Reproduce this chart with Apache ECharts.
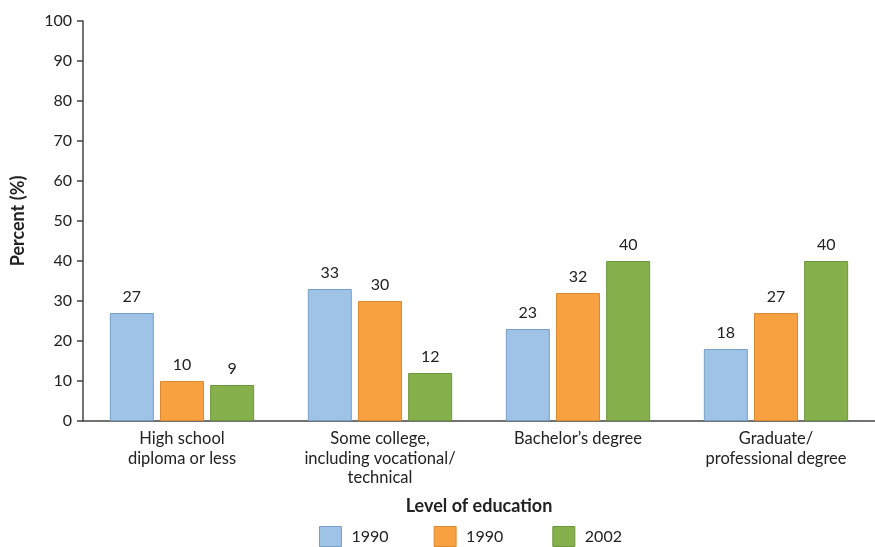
<!DOCTYPE html>
<html>
<head>
<meta charset="utf-8">
<script src="https://cdn.jsdelivr.net/npm/echarts@6/dist/echarts.min.js"></script>
<style>html,body{margin:0;padding:0;background:#fff}#c{width:875px;height:547px}</style>
</head>
<body>
<div id="c"></div>
<script>
var categories = ['High school\ndiploma or less', 'Some college,\nincluding vocational/\ntechnical', 'Bachelor\u2019s degree', 'Graduate/\nprofessional degree'];
var seriesNames = ['1990', '1990', '2002'];
var valuesA = [27, 33, 23, 18];
var valuesB = [10, 30, 32, 27];
var valuesC = [9, 12, 40, 40];
var yTicks = {min: 0, max: 100, interval: 10};

var colors = ['#9fc3e7', '#f8a141', '#85b04b'];
var borders = ['#7a9fc6', '#dc8a30', '#6c963a'];
var FONT = 'Lato, "Open Sans", sans-serif';
var data = [valuesA, valuesB, valuesC];

var chart = echarts.init(document.getElementById('c'));
chart.setOption({
  backgroundColor: '#ffffff',
  animation: false,
  textStyle: {fontFamily: FONT, color: '#222'},
  grid: {left: 83, right: -20, top: 21, bottom: 126},
  legend: {
    bottom: -5, left: 314,
    itemWidth: 22, itemHeight: 20, itemGap: 45,
    icon: 'rect',
    textStyle: {fontFamily: FONT, fontSize: 16, color: '#222', padding: [0, 0, 0, 5]},
    data: seriesNames.map(function (n, i) { return {name: n + (i === 1 ? ' ' : ''), itemStyle: {color: colors[i], borderColor: borders[i], borderWidth: 1}}; })
  },
  xAxis: {
    type: 'category',
    data: categories,
    name: 'Level of education',
    nameLocation: 'middle',
    nameGap: 76,
    nameTextStyle: {fontFamily: FONT, fontSize: 18, fontWeight: 'bold', color: '#222'},
    axisLine: {lineStyle: {color: '#444', width: 1.5}},
    axisTick: {show: false},
    axisLabel: {fontFamily: FONT, fontSize: 16.5, color: '#222', lineHeight: 19.5, margin: 8, interval: 0}
  },
  yAxis: {
    type: 'value',
    min: yTicks.min, max: yTicks.max, interval: yTicks.interval,
    name: 'Percent (%)',
    nameLocation: 'middle',
    nameGap: 56,
    nameTextStyle: {fontFamily: FONT, fontSize: 18, fontWeight: 'bold', color: '#222'},
    axisLine: {show: true, lineStyle: {color: '#444', width: 1.5}},
    axisTick: {show: true, length: 6, lineStyle: {color: '#444', width: 1.5}},
    splitLine: {show: false},
    axisLabel: {fontFamily: FONT, fontSize: 16, color: '#222', margin: 11}
  },
  series: data.map(function (vals, i) {
    return {
      name: seriesNames[i] + (i === 1 ? ' ' : ''),
      type: 'bar',
      data: vals,
      barWidth: 44,
      barGap: '14%',
      itemStyle: {color: colors[i], borderColor: borders[i], borderWidth: 1},
      label: {show: true, position: 'top', distance: 8, fontFamily: FONT, fontSize: 16, color: '#222'}
    };
  })
});
</script>
</body>
</html>
